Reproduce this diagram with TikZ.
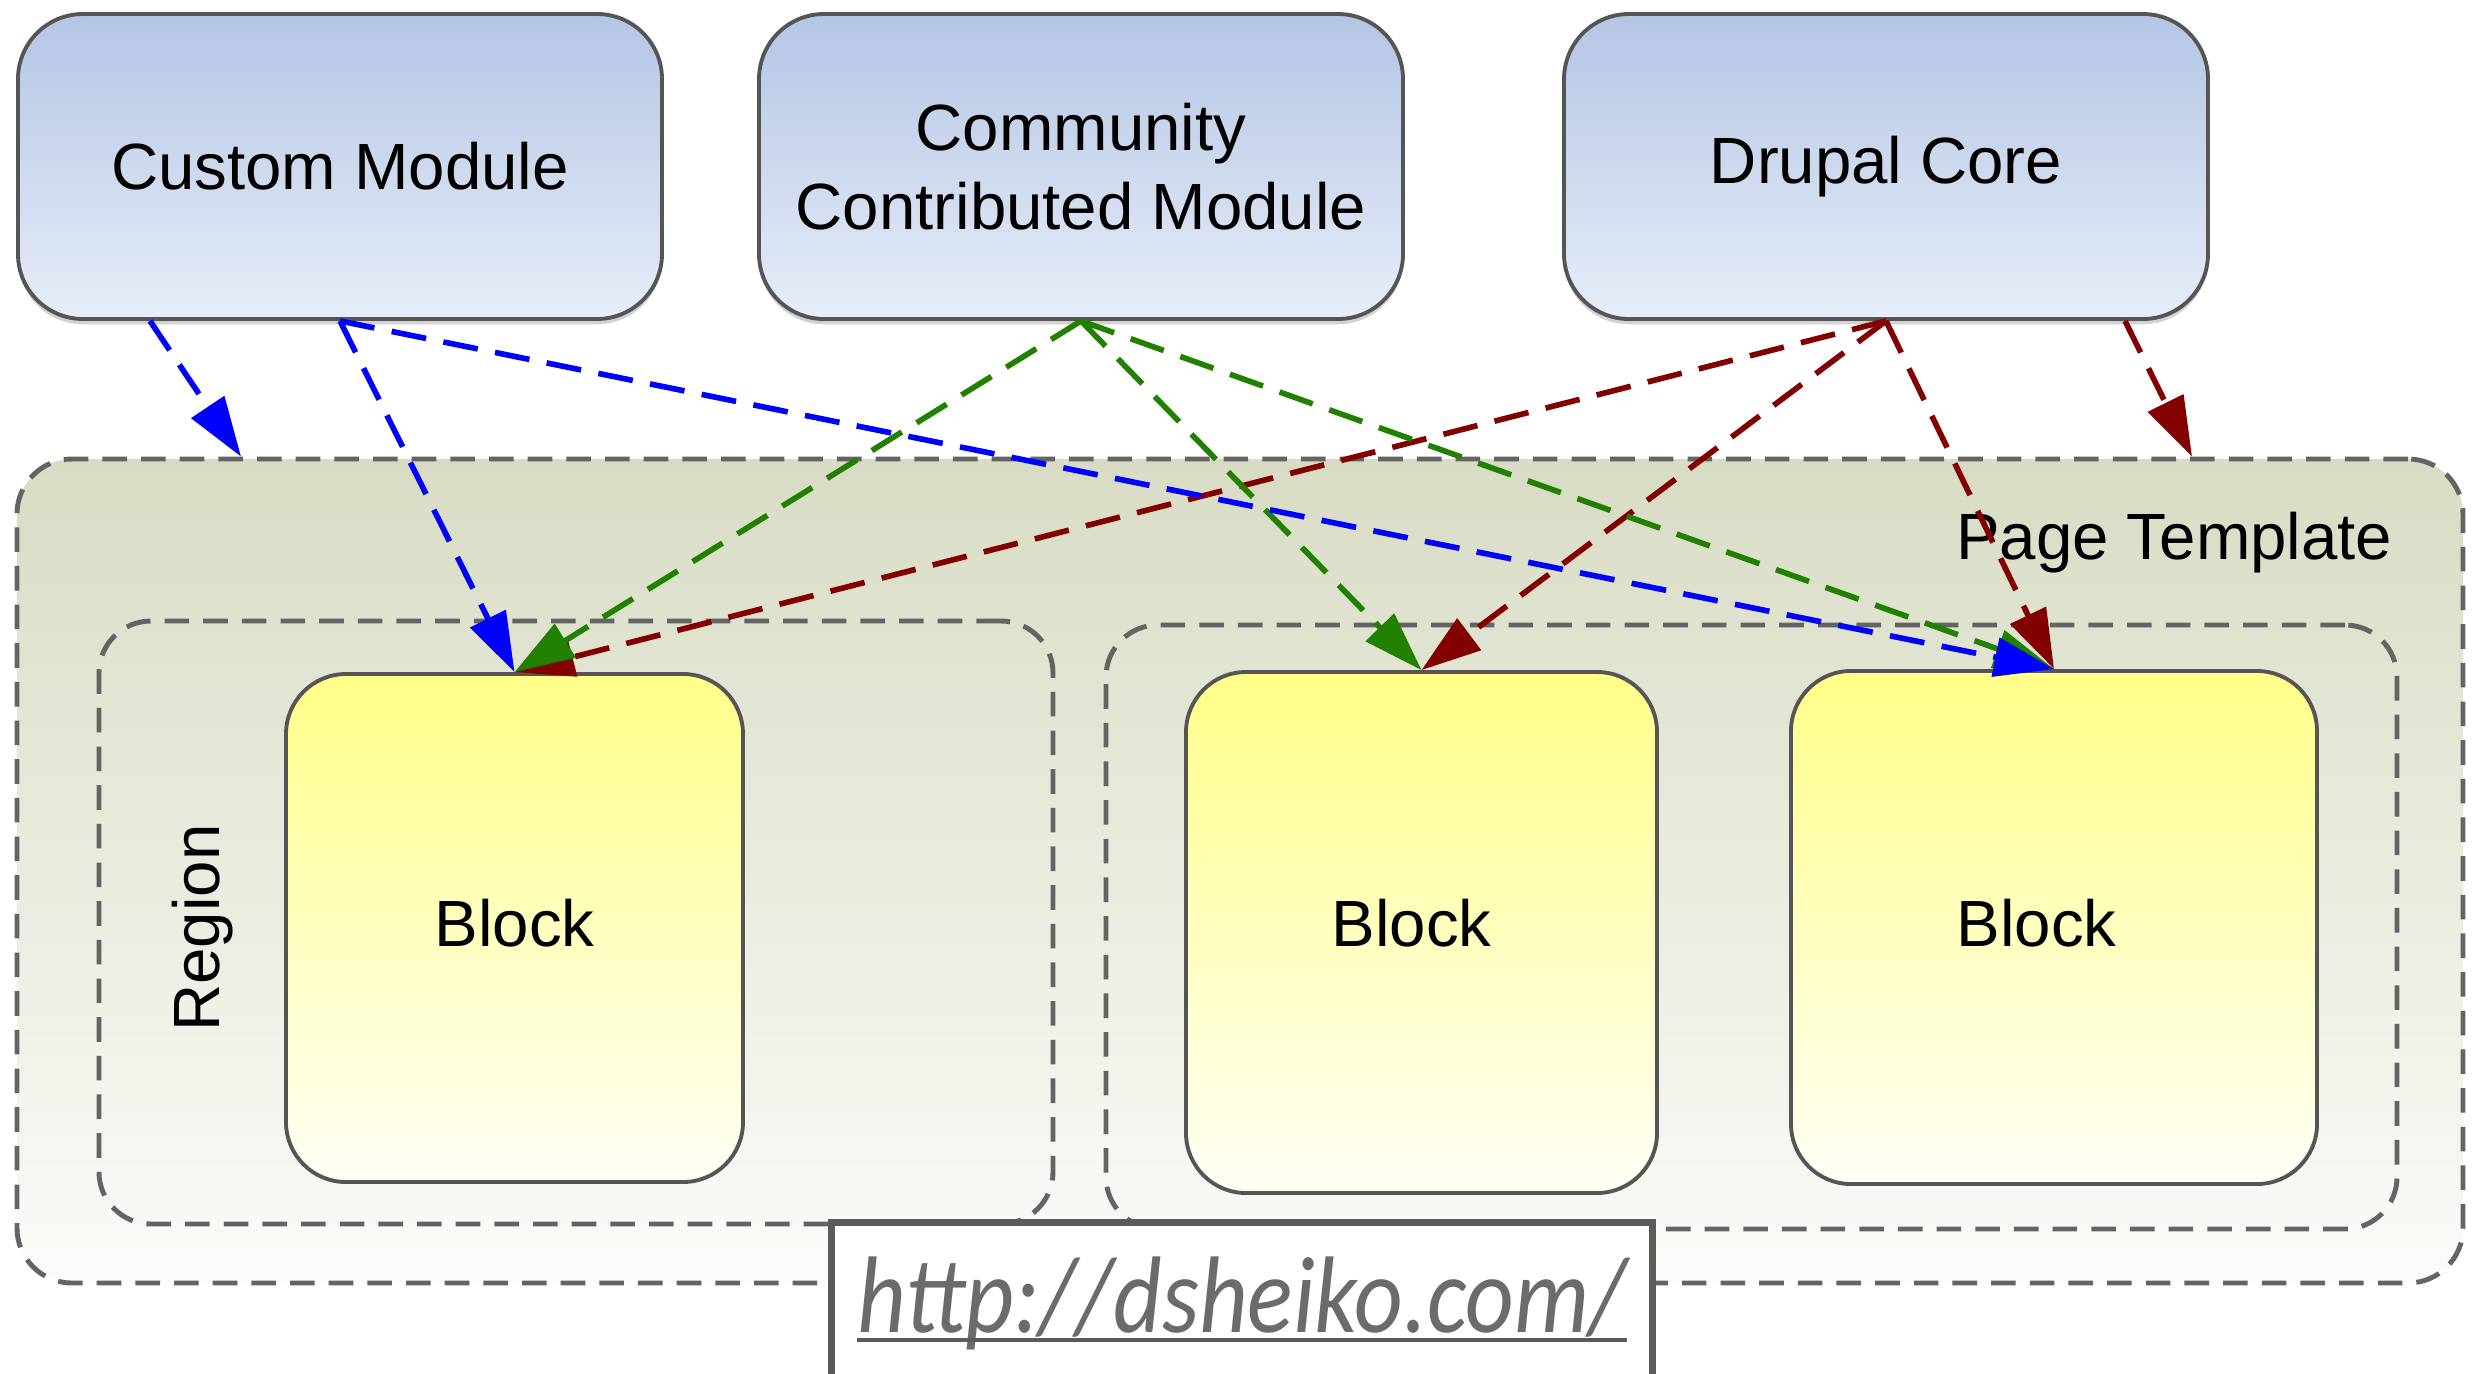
\documentclass[tikz,border=0pt]{standalone}
\usepackage{fontspec}
\setmainfont{Liberation Sans}
\newfontfamily\urlfont{Carlito}
\usetikzlibrary{shapes,shadows,arrows.meta,calc}
\definecolor{modtop}{RGB}{180,197,228}
\definecolor{modbot}{RGB}{231,237,248}
\definecolor{tpltop}{RGB}{216,220,196}
\definecolor{tplbot}{RGB}{251,251,249}
\definecolor{blktop}{RGB}{255,255,136}
\definecolor{blkbot}{RGB}{255,255,246}
\definecolor{edge}{RGB}{85,85,85}
\definecolor{dashgray}{RGB}{100,100,100}
\definecolor{cblue}{RGB}{0,0,255}
\definecolor{cgreen}{RGB}{34,128,0}
\definecolor{cred}{RGB}{130,0,0}
\definecolor{urlgray}{RGB}{88,92,90}
\tikzstyle{line} = [draw, -{Triangle[length=17pt,width=11pt]}, line width=1.6pt, dash pattern=on 10pt off 5pt]
\tikzstyle{module} = [rectangle, rounded corners=0.65cm, draw=edge, line width=1.1pt, top color=modtop, bottom color=modbot, minimum width=6.44cm, minimum height=3.05cm, align=center, drop shadow={shadow xshift=0pt, shadow yshift=-1.5pt, opacity=0.35}, font=\fontsize{18.6}{22.5}\selectfont]
\tikzstyle{container} = [rectangle, rounded corners=0.52cm, draw=dashgray, line width=1.4pt, dash pattern=on 7pt off 4pt]
\tikzstyle{block} = [rectangle, rounded corners=0.6cm, draw=edge, line width=1.1pt, top color=blktop, bottom color=blkbot, font=\fontsize{18.6}{22.5}\selectfont]
\tikzstyle{plain_txt} = [inner sep=0pt, font=\fontsize{18.6}{22.5}\selectfont]

\begin{document}
\begin{tikzpicture}
		\fill[white] (0,0) rectangle (24.74,-13.73);
		\useasboundingbox (0,0) rectangle (24.74,-13.73);
		
		% modules
		\node[module] (custom_mod) at (3.40,-1.665) {Custom Module};
		\node[module, right of=custom_mod, node distance=7.41cm] (contrib_mod) {Community\\Contributed Module};
		\node[module, right of=contrib_mod, node distance=8.05cm] (core_mod) {Drupal Core};
		
		% page template
		\node[container, rounded corners=0.55cm, top color=tpltop, bottom color=tplbot, minimum width=24.46cm, minimum height=8.24cm] (page_tpl) at (12.40,-8.71) {};
		\node[plain_txt, anchor=base east] (page_txt) at (23.93,-5.59) {Page Template};
		
		\node[container, minimum width=9.54cm, minimum height=6.03cm] (region_1) at (5.76,-9.225) {};
		\node[container, minimum width=12.91cm, minimum height=6.04cm] (region_2) at (17.515,-9.27) {};
		\node[plain_txt, rotate=90] (region_txt) at (2.03,-9.28) {Region};
		
		\node[block, minimum width=4.57cm, minimum height=5.08cm, text depth=0.1cm] (block_1) at (5.145,-9.28) {Block};
		\node[block, minimum width=4.71cm, minimum height=5.21cm, text depth=0.2cm] (block_2) at (14.215,-9.325) {\hspace*{-0.2cm}Block};
		\node[block, minimum width=5.26cm, minimum height=5.13cm, text depth=0.1cm] (block_3) at (20.54,-9.275) {\hspace*{-0.35cm}Block};
		
		% core
		\path [line, cred] (core_mod.south) to (block_1.north);
		\path [line, cred] (core_mod.south) to (block_2.north);
		\path [line, cred] (core_mod.south) to (block_3.north);
		\path [line, cred] ([xshift=2.39cm]core_mod.south) to ([xshift=9.52cm]page_tpl.north);
		
		% contributed
		\path [line, cgreen] (contrib_mod.south) to (block_1.north);
		\path [line, cgreen] (contrib_mod.south) to (block_2.north);
		\path [line, cgreen] (contrib_mod.south) to (block_3.north);
		
		% custom
		\path [line, cblue] ([xshift=-1.9cm]custom_mod.south) to ([xshift=-9.99cm]page_tpl.north);
		\path [line, cblue] (custom_mod.south) to (block_1.north);
		\path [line, cblue] (custom_mod.south) to (block_3.north);
		
		% url
		\node[draw=urlgray, line width=2pt, fill=white, minimum width=8.21cm, minimum height=2.2cm, anchor=north] (url_box) at (12.42,-12.19) {};
		\node[anchor=base, inner sep=0pt, xscale=0.87, text=urlgray!90, font=\urlfont\itshape\fontsize{31}{31}\selectfont] (url_txt) at ([yshift=-1.13cm]url_box.north) {http://dsheiko.com/};
		\draw[urlgray, line width=1.4pt] ([yshift=-0.08cm]url_txt.base west) -- ([yshift=-0.08cm]url_txt.base east);
		
\end{tikzpicture}
\end{document}
